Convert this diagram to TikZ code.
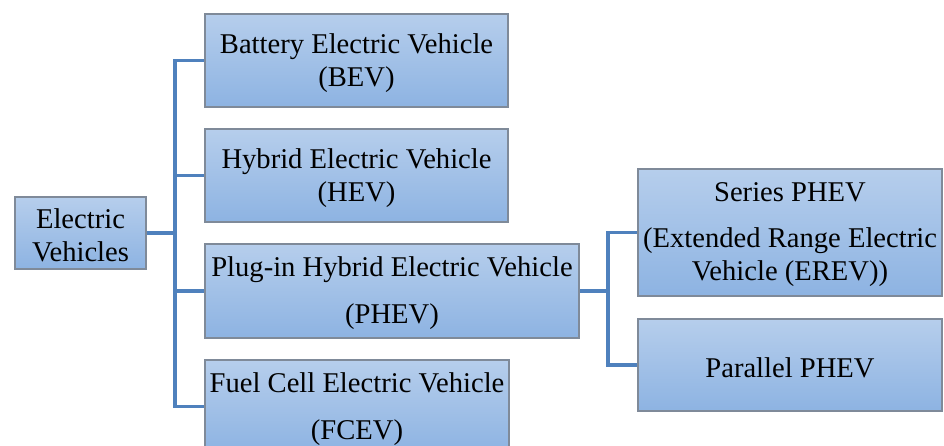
\documentclass[tikz,border=0pt]{standalone}
\usepackage{fontspec}
\setmainfont{Liberation Serif}
\usetikzlibrary{backgrounds}
\definecolor{boxtop}{HTML}{B6CEEC}
\definecolor{boxbot}{HTML}{8DB3E2}
\definecolor{boxline}{HTML}{7F8A99}
\definecolor{conn}{HTML}{4F81BD}
\tikzset{
  evbox/.style={rectangle, draw=boxline, line width=1.4pt, top color=boxtop, bottom color=boxbot,
    inner sep=0pt},
  evtext/.style={inner sep=0pt, align=center, yshift=-2.5pt, font=\fontsize{28.6}{33}\selectfont},
  link/.style={draw=conn, line width=3.2pt, line cap=rect}
}
\begin{document}
\begin{tikzpicture}[x=1pt,y=-1pt]
\useasboundingbox (0,0) rectangle (944,446);
\clip (0,0) rectangle (944,446);
\node[evbox, minimum width=131pt, minimum height=72pt] (ev) at (80.5,233) {};
\node[evbox, minimum width=303pt, minimum height=93pt] (bev) at (356.5,60.5) {};
\node[evbox, minimum width=303pt, minimum height=93pt] (hev) at (356.5,175.5) {};
\node[evbox, minimum width=374pt, minimum height=94pt] (phev) at (392,291) {};
\node[evbox, minimum width=304pt, minimum height=93pt] (fcev) at (357,406.5) {};
\node[evbox, minimum width=304pt, minimum height=127pt] (series) at (790,232.5) {};
\node[evbox, minimum width=304pt, minimum height=92pt] (parallel) at (790,365) {};
\node[evtext] (evt) at (ev.center) {Electric\\Vehicles};
\node[evtext] (bevt) at (bev.center) {Battery Electric Vehicle\\(BEV)};
\node[evtext] (hevt) at (hev.center) {Hybrid Electric Vehicle\\(HEV)};
\node[evtext] (phevt) at (phev.center) {Plug-in Hybrid Electric Vehicle\\[14pt](PHEV)};
\node[evtext] (fcevt) at (fcev.center) {Fuel Cell Electric Vehicle\\[14pt](FCEV)};
\node[evtext] (seriest) at (series.center) {Series PHEV\\[13pt](Extended Range Electric\\Vehicle (EREV))};
\node[evtext] (parallelt) at (parallel.center) {Parallel PHEV};
\coordinate (trunk) at (175,233);
\coordinate (trunk2) at (608,291);
\begin{scope}[on background layer]
\draw[link] (ev.east) -- (trunk);
\draw[link] (bev.west) -| (trunk);
\draw[link] (hev.west) -| (trunk);
\draw[link] (phev.west) -| (trunk);
\draw[link] (fcev.west) -| (trunk);
\draw[link] (phev.east) -- (trunk2);
\draw[link] (series.west) -| (trunk2);
\draw[link] (parallel.west) -| (trunk2);
\end{scope}
\end{tikzpicture}
\end{document}
